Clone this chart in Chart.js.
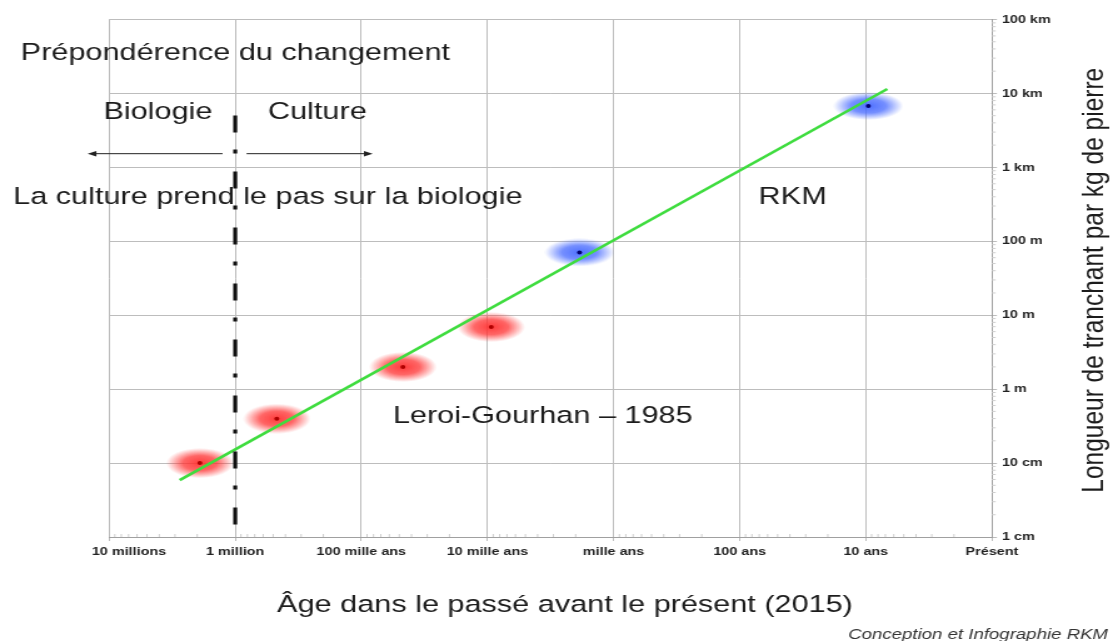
<!DOCTYPE html>
<html>
<head>
<meta charset="utf-8">
<script src="https://cdn.jsdelivr.net/npm/chart.js@4.4.0/dist/chart.umd.min.js"></script>
<style>
  html, body { margin: 0; padding: 0; background: #fff; overflow: hidden; }
  /* the original picture is stretched horizontally, so is ours */
  #wrap { width: 890px; height: 641px; transform: scaleX(1.25056); transform-origin: 0 0; }
</style>
</head>
<body>
<div id="wrap"><canvas id="chart" width="890" height="641"></canvas></div>
<script>
// both axes are in decades (log10): x 0 = 10 millions d'années ... 7 = présent
const xLabels = ["10 millions", "1 million", "100 mille ans", "10 mille ans", "mille ans", "100 ans", "10 ans", "Présent"];
const yLabels = ["1 cm", "10 cm", "1 m", "10 m", "100 m", "1 km", "10 km", "100 km"];

// Leroi-Gourhan 1985 (red)
const lgX = [0.72, 1.33, 2.33, 3.03];
const lgY = [1.00, 1.60, 2.30, 2.84];
// RKM (blue)
const rkmX = [3.73, 6.02];
const rkmY = [3.85, 5.83];
// trend line
const trendX = [0.56, 6.17];
const trendY = [0.77, 6.06];
// biologie / culture split at 1 million
const splitX = [1, 1];
const splitY = [5.70, 0.16];

const notes = [
  { text: "Prépondérence du changement", x: -0.70, y: 6.45 },
  { text: "Biologie", x: -0.045, y: 5.66 },
  { text: "Culture", x: 1.26, y: 5.66 },
  { text: "La culture prend le pas sur la biologie", x: -0.76, y: 4.51 },
  { text: "RKM", x: 5.15, y: 4.51 },
  { text: "Leroi-Gourhan \u2013 1985", x: 2.25, y: 1.54 },
];
const arrows = [
  { from: 0.90, to: -0.17, y: 5.185 },
  { from: 1.09, to: 2.09, y: 5.185 },
];

const pts = (xs, ys) => xs.map((x, i) => ({ x: x, y: ys[i] }));

function glow(w, h, rgb) {
  const c = document.createElement("canvas");
  c.width = w;
  c.height = h;
  const g = c.getContext("2d");
  g.scale(w / h, 1);
  const r = h / 2;
  const grad = g.createRadialGradient(r, r, 0, r, r, r);
  grad.addColorStop(0, "rgba(" + rgb + ",0.95)");
  grad.addColorStop(0.5, "rgba(" + rgb + ",0.75)");
  grad.addColorStop(0.8, "rgba(" + rgb + ",0.3)");
  grad.addColorStop(1, "rgba(" + rgb + ",0)");
  g.fillStyle = grad;
  g.fillRect(0, 0, h, h);
  return c;
}
const redGlow = glow(54, 30, "255,50,50");
const blueGlow = glow(56, 28, "70,105,255");

const textFont = "24.5px 'Liberation Sans', Arial, sans-serif";

const extras = {
  id: "extras",
  beforeDatasetsDraw(chart) {
    const ctx = chart.ctx;
    const xs = chart.scales.x, ys = chart.scales.y;
    const a = chart.chartArea;
    ctx.save();
    ctx.strokeStyle = "#cfcfcf";
    ctx.lineWidth = 1;
    ctx.beginPath();
    for (let k = 0; k < 7; k++) {
      for (let m = 2; m <= 9; m++) {
        const py = ys.getPixelForValue(k + Math.log10(m));
        ctx.moveTo(a.right, py);
        ctx.lineTo(a.right + 3, py);
        const px = xs.getPixelForValue(k + 1 - Math.log10(m));
        ctx.moveTo(px, a.bottom);
        ctx.lineTo(px, a.bottom - 3);
      }
    }
    ctx.stroke();
    ctx.restore();
  },
  afterDraw(chart) {
    const ctx = chart.ctx;
    const xs = chart.scales.x, ys = chart.scales.y;
    const a = chart.chartArea;
    ctx.save();
    ctx.fillStyle = "#1c1c1c";
    ctx.font = textFont;
    ctx.textBaseline = "alphabetic";
    ctx.textAlign = "left";
    notes.forEach(n => ctx.fillText(n.text, xs.getPixelForValue(n.x), ys.getPixelForValue(n.y)));

    ctx.strokeStyle = "#222";
    ctx.fillStyle = "#222";
    ctx.lineWidth = 1;
    arrows.forEach(ar => {
      const x0 = xs.getPixelForValue(ar.from), x1 = xs.getPixelForValue(ar.to);
      const y = ys.getPixelForValue(ar.y);
      const dir = x1 > x0 ? 1 : -1;
      ctx.beginPath();
      ctx.moveTo(x0, y);
      ctx.lineTo(x1 - dir * 5, y);
      ctx.stroke();
      ctx.beginPath();
      ctx.moveTo(x1, y);
      ctx.lineTo(x1 - dir * 7, y - 2.8);
      ctx.lineTo(x1 - dir * 7, y + 2.8);
      ctx.closePath();
      ctx.fill();
    });

    // axis titles
    ctx.fillStyle = "#1c1c1c";
    ctx.font = textFont;
    ctx.textAlign = "center";
    ctx.fillText("\u00c2ge dans le pass\u00e9 avant le pr\u00e9sent (2015)", (a.left + a.right) / 2 + 11.6, 612);
    ctx.save();
    ctx.translate(chart.width - 8, (a.top + a.bottom) / 2 + 2);
    ctx.rotate(-Math.PI / 2);
    ctx.fillText("Longueur de tranchant par kg de pierre", 0, 0);
    ctx.restore();

    ctx.font = "italic 14.9px 'Liberation Sans', Arial, sans-serif";
    ctx.fillStyle = "#333";
    ctx.textAlign = "right";
    ctx.fillText("Conception et Infographie RKM", chart.width - 4, 639);
    ctx.restore();
  }
};

const tickFont = { family: "'Liberation Sans', Arial, sans-serif", size: 11.5, weight: "bold" };

new Chart(document.getElementById("chart"), {
  type: "scatter",
  data: {
    datasets: [
      {
        label: "Leroi-Gourhan halo",
        data: pts(lgX, lgY),
        pointStyle: redGlow,
        pointRadius: 3,
        order: 5
      },
      {
        label: "RKM halo",
        data: pts(rkmX, rkmY),
        pointStyle: blueGlow,
        pointRadius: 3,
        order: 5
      },
      {
        label: "Tendance",
        data: pts(trendX, trendY),
        showLine: true,
        borderColor: "#3fdc3f",
        borderWidth: 2.6,
        pointRadius: 0,
        order: 3
      },
      {
        label: "Biologie / Culture",
        data: pts(splitX, splitY),
        showLine: true,
        borderColor: "#111",
        borderWidth: 3.2,
        borderDash: [17, 17, 4, 18],
        pointRadius: 0,
        order: 2
      },
      {
        label: "Leroi-Gourhan",
        data: pts(lgX, lgY),
        backgroundColor: "#b00000",
        borderWidth: 0,
        pointRadius: 2,
        order: 1
      },
      {
        label: "RKM",
        data: pts(rkmX, rkmY),
        backgroundColor: "#000070",
        borderWidth: 0,
        pointRadius: 2,
        order: 1
      }
    ]
  },
  options: {
    responsive: false,
    animation: false,
    events: [],
    layout: { padding: { left: 87.2, top: 19.5, right: 36.8, bottom: 74 } },
    plugins: { legend: { display: false }, tooltip: { enabled: false } },
    scales: {
      x: {
        type: "linear",
        min: 0,
        max: 7,
        afterFit: s => { s.height = 30; },
        grid: { color: "#bdbdbd", lineWidth: 1, tickLength: 4, drawOnChartArea: true },
        border: { color: "#a0a0a0" },
        ticks: {
          stepSize: 1,
          autoSkip: false,
          maxRotation: 0,
          padding: 4,
          color: "#222",
          font: tickFont,
          callback: v => (v === 0 ? "          " : "") + xLabels[v]
        }
      },
      y: {
        type: "linear",
        position: "right",
        min: 0,
        max: 7,
        afterFit: s => { s.width = 60; },
        grid: { color: "#bdbdbd", lineWidth: 1, tickLength: 4 },
        border: { color: "#a0a0a0" },
        ticks: {
          stepSize: 1,
          autoSkip: false,
          padding: 4,
          color: "#222",
          font: tickFont,
          callback: v => yLabels[v]
        }
      }
    }
  },
  plugins: [extras]
});
</script>
</body>
</html>
